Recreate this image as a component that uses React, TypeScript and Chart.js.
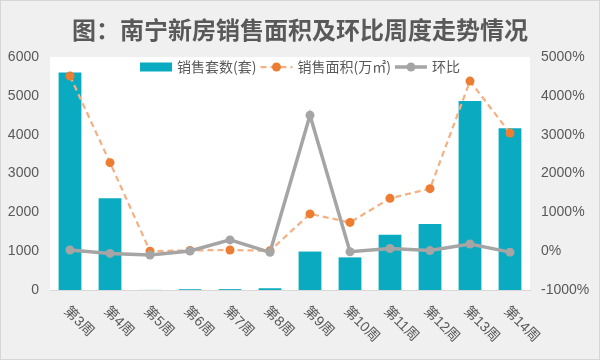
import React, { useEffect, useRef } from "react";
import { Chart, registerables } from "chart.js";

Chart.register(...registerables);

const TITLE = "图：南宁新房销售面积及环比周度走势情况";
const weeks = ["第3周", "第4周", "第5周", "第6周", "第7周", "第8周", "第9周", "第10周", "第11周", "第12周", "第13周", "第14周"];
const unitsSold = [5600, 2360, 3, 20, 22, 45, 990, 840, 1420, 1700, 4870, 4165];
const areaSold = [55.1, 32.8, 10.0, 10.2, 10.3, 10.1, 19.6, 17.4, 23.6, 26.1, 53.8, 40.4];
const momRatio = [30, -58, -100, 5, 290, -30, 3500, -15, 70, 15, 185, -25];
const seriesNames = ["销售套数(套)", "销售面积(万㎡)", "环比"];

const TEXT = "#595959";
const FONT = '"Liberation Sans", "Noto Sans CJK SC", sans-serif';
const CJK = '"Noto Sans CJK SC", "Liberation Sans", sans-serif';
const TEAL = "#0aabc1";
const ORANGE = "#ed7d31";
const ORANGE_LINE = "#f4b183";
const GRAY = "#a5a5a5";

const decorPlugin = {
  id: "decor",
  beforeDraw(chart: any) {
    const { ctx, width, height, chartArea } = chart;
    ctx.save();
    ctx.fillStyle = "#f0f0f0";
    ctx.fillRect(0, 0, width, height);
    ctx.strokeStyle = "#d6d6d6";
    ctx.lineWidth = 1;
    ctx.strokeRect(0.5, 0.5, width - 1, height - 1);
    ctx.fillStyle = "#ffffff";
    ctx.fillRect(chartArea.left, chartArea.top, chartArea.right - chartArea.left, chartArea.bottom - chartArea.top);
    // title
    ctx.fillStyle = TEXT;
    ctx.font = `bold 24px ${CJK}`;
    ctx.textAlign = "center";
    ctx.textBaseline = "middle";
    ctx.fillText(TITLE, width / 2, 30);
    ctx.restore();
  },
  afterDraw(chart: any) {
    const { ctx } = chart;
    const xScale = chart.scales.x;
    ctx.save();
    // rotated x labels
    ctx.fillStyle = TEXT;
    ctx.font = `14px ${FONT}`;
    ctx.textAlign = "left";
    ctx.textBaseline = "middle";
    weeks.forEach((lab, i) => {
      const x = xScale.getPixelForTick(i);
      ctx.save();
      ctx.translate(x - 4, 309);
      ctx.rotate(Math.PI / 4);
      ctx.fillText(lab, 0, 0);
      ctx.restore();
    });
    // legend
    ctx.font = `14px ${CJK}`;
    const sampleW = 32;
    const gap1 = 5;
    const gap2 = 4;
    const widths = seriesNames.map((n) => ctx.measureText(n).width);
    const total = widths.reduce((a, w) => a + sampleW + gap1 + w, 0) + gap2 * (seriesNames.length - 1);
    let x = 300 - total / 2;
    const y = 67;
    seriesNames.forEach((name, i) => {
      if (i === 0) {
        ctx.fillStyle = TEAL;
        ctx.fillRect(x, y - 4.5, sampleW, 9);
      } else if (i === 1) {
        ctx.strokeStyle = ORANGE_LINE;
        ctx.lineWidth = 2.25;
        ctx.setLineDash([6, 4]);
        ctx.beginPath();
        ctx.moveTo(x, y);
        ctx.lineTo(x + sampleW, y);
        ctx.stroke();
        ctx.setLineDash([]);
        ctx.fillStyle = ORANGE;
        ctx.beginPath();
        ctx.arc(x + sampleW / 2, y, 4.5, 0, Math.PI * 2);
        ctx.fill();
      } else {
        ctx.strokeStyle = GRAY;
        ctx.lineWidth = 3.5;
        ctx.beginPath();
        ctx.moveTo(x, y);
        ctx.lineTo(x + sampleW, y);
        ctx.stroke();
        ctx.fillStyle = GRAY;
        ctx.beginPath();
        ctx.arc(x + sampleW / 2, y, 4.5, 0, Math.PI * 2);
        ctx.fill();
      }
      ctx.fillStyle = TEXT;
      ctx.textAlign = "left";
      ctx.textBaseline = "middle";
      ctx.fillText(name, x + sampleW + gap1, y);
      x += sampleW + gap1 + widths[i] + gap2;
    });
    ctx.restore();
  },
};

export default function App() {
  const ref = useRef<HTMLCanvasElement | null>(null);
  useEffect(() => {
    document.body.style.margin = "0";
    const canvas = ref.current;
    if (!canvas) return;
    const chart = new Chart(canvas, {
      type: "bar",
      data: {
        labels: weeks,
        datasets: [
          {
            type: "line",
            label: seriesNames[2],
            data: momRatio,
            yAxisID: "yr",
            borderColor: GRAY,
            backgroundColor: GRAY,
            borderWidth: 3.5,
            pointRadius: 4.5,
            pointBorderWidth: 0,
            pointBackgroundColor: GRAY,
            tension: 0,
            order: 1,
          } as any,
          {
            type: "line",
            label: seriesNames[1],
            data: areaSold,
            yAxisID: "ya",
            borderColor: ORANGE_LINE,
            backgroundColor: ORANGE,
            borderWidth: 2.25,
            borderDash: [6, 4],
            pointRadius: 4.5,
            pointBorderWidth: 0,
            pointBackgroundColor: ORANGE,
            tension: 0,
            order: 2,
          } as any,
          {
            type: "bar",
            label: seriesNames[0],
            data: unitsSold,
            yAxisID: "y",
            backgroundColor: TEAL,
            barPercentage: 0.57,
            categoryPercentage: 1,
            order: 3,
          } as any,
        ],
      },
      options: {
        animation: false,
        responsive: false,
        maintainAspectRatio: false,
        layout: { padding: { top: 57, left: 0, right: 0, bottom: 0 } },
        plugins: {
          legend: { display: false },
          title: { display: false },
          tooltip: { enabled: false },
        },
        scales: {
          x: {
            grid: { display: false, drawTicks: false },
            border: { display: true, color: "#d9d9d9", width: 1 },
            ticks: { display: false },
            afterFit: (s: any) => {
              s.height = 70;
            },
          },
          y: {
            position: "left",
            min: 0,
            max: 6000,
            grid: { display: false, drawTicks: false },
            border: { display: false },
            ticks: {
              stepSize: 1000,
              color: TEXT,
              font: { size: 14, family: FONT },
              padding: 11,
              callback: (v: any) => String(v),
            },
            afterFit: (s: any) => {
              s.width = 50;
            },
          },
          yr: {
            position: "right",
            min: -1000,
            max: 5000,
            grid: { display: false, drawTicks: false },
            border: { display: false },
            ticks: {
              stepSize: 1000,
              color: TEXT,
              font: { size: 14, family: FONT },
              padding: 11,
              callback: (v: any) => `${v}%`,
            },
            afterFit: (s: any) => {
              s.width = 70;
            },
          },
          ya: {
            display: false,
            min: 0,
            max: 60,
          },
        },
      } as any,
      plugins: [decorPlugin],
    });
    return () => chart.destroy();
  }, []);
  return (
    <div style={{ width: 600, height: 360 }}>
      <canvas ref={ref} width={600} height={360} style={{ display: "block" }} />
    </div>
  );
}
